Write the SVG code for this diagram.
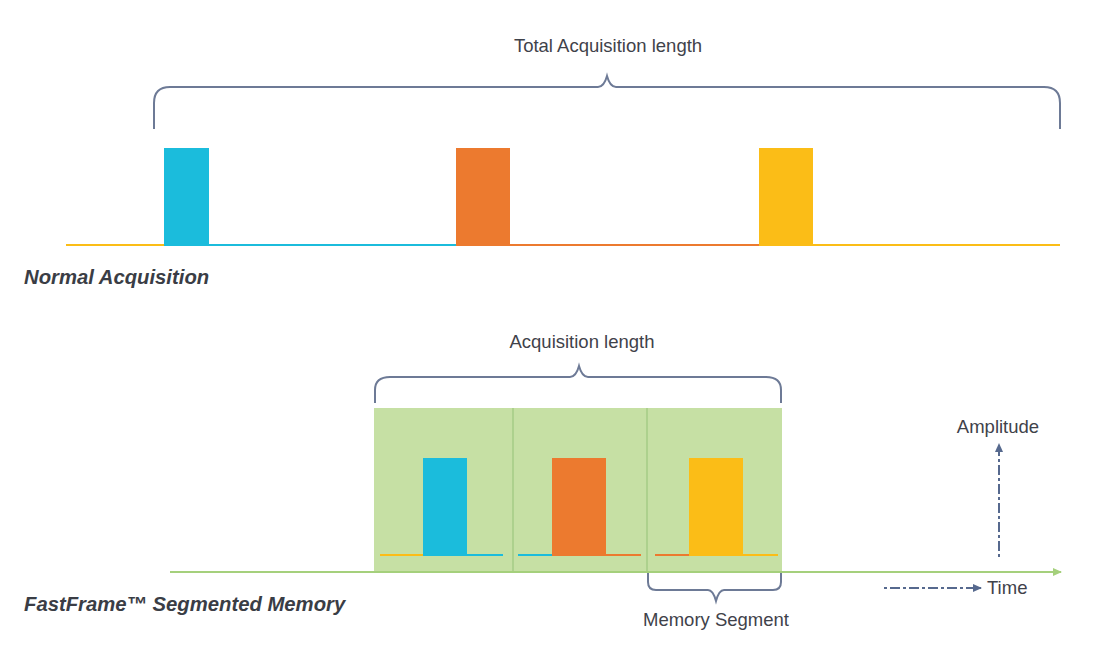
<svg xmlns="http://www.w3.org/2000/svg" width="1111" height="655" viewBox="0 0 1111 655">
<defs>
<style>
.lbl{font-family:"Liberation Sans",Arial,sans-serif;font-size:18.5px;fill:#3f424a}
.title{font-family:"Liberation Sans",Arial,sans-serif;font-size:20.3px;font-weight:bold;font-style:italic;fill:#3a3d45}
.br{fill:none;stroke:#6d7a96;stroke-width:2}
.cy{fill:#1bbcdc}.or{fill:#ec7a2f}.ye{fill:#fbbd17}
.lcy{stroke:#1bbcdc;stroke-width:2}.lor{stroke:#ec7a2f;stroke-width:2}.lye{stroke:#fbbd17;stroke-width:2}
.ax{stroke:#56698e;stroke-width:2;stroke-dasharray:3 3 10 3;fill:none}
</style>
<marker id="ga" markerWidth="10" markerHeight="10" refX="8" refY="5" orient="auto" markerUnits="userSpaceOnUse"><path d="M0,1 L9,5 L0,9 Z" fill="#a5d07c"/></marker>
<marker id="ba" markerWidth="10" markerHeight="10" refX="8" refY="5" orient="auto" markerUnits="userSpaceOnUse"><path d="M0,1 L9,5 L0,9 Z" fill="#56698e"/></marker>
</defs>
<rect width="1111" height="655" fill="#ffffff"/>

<g id="normal">
<text class="lbl" x="608" y="52" text-anchor="middle">Total Acquisition length</text>
<path class="br" d="M154,129 V103 Q154,87 170,87 H598 Q604,87 607,76 Q610,87 616,87 H1044 Q1060,87 1060,103 V129"/>
<line class="lye" x1="66" y1="245" x2="165" y2="245"/>
<line class="lcy" x1="208" y1="245" x2="457" y2="245"/>
<line class="lor" x1="509" y1="245" x2="760" y2="245"/>
<line class="lye" x1="812" y1="245" x2="1060" y2="245"/>
<rect class="cy" x="164" y="148" width="45" height="98"/>
<rect class="or" x="456" y="148" width="54" height="98"/>
<rect class="ye" x="759" y="148" width="54" height="98"/>
<text class="title" x="24" y="284">Normal Acquisition</text>
</g>

<g id="fastframe">
<text class="lbl" x="582" y="348" text-anchor="middle">Acquisition length</text>
<path class="br" d="M375,403 V390 Q375,377 390,377 H570 Q576,377 579,366 Q582,377 588,377 H766 Q781,377 781,390 V403"/>
<rect x="374" y="408" width="408" height="164" fill="#c6e0a4"/>
<line x1="513" y1="408" x2="513" y2="572" stroke="#a5cc86" stroke-width="1.5"/>
<line x1="647" y1="408" x2="647" y2="572" stroke="#a5cc86" stroke-width="1.5"/>
<line class="lye" x1="380" y1="555" x2="424" y2="555"/>
<line class="lcy" x1="466" y1="555" x2="503" y2="555"/>
<line class="lcy" x1="518" y1="555" x2="553" y2="555"/>
<line class="lor" x1="605" y1="555" x2="641" y2="555"/>
<line class="lor" x1="655" y1="555" x2="690" y2="555"/>
<line class="lye" x1="742" y1="555" x2="778" y2="555"/>
<rect class="cy" x="423" y="458" width="44" height="98"/>
<rect class="or" x="552" y="458" width="54" height="98"/>
<rect class="ye" x="689" y="458" width="54" height="98"/>
<text class="title" x="24" y="611">FastFrame™ Segmented Memory</text>
</g>

<g id="memory-segment">
<path class="br" d="M648,573 V582 Q648,590 656,590 H708 Q713,590 716,601 Q719,590 724,590 H773 Q781,590 781,582 V573"/>
<text class="lbl" x="716" y="626" text-anchor="middle">Memory Segment</text>
</g>

<g id="legend">
<text class="lbl" x="998" y="433" text-anchor="middle">Amplitude</text>
<text class="lbl" x="987" y="594">Time</text>
</g>

<g id="connectors">
<line x1="170" y1="572" x2="1061" y2="572" stroke="#a5d07c" stroke-width="2" marker-end="url(#ga)"/>
<line class="ax" x1="999" y1="557" x2="999" y2="444" marker-end="url(#ba)"/>
<line class="ax" x1="884" y1="588" x2="981" y2="588" marker-end="url(#ba)"/>
</g>
</svg>
